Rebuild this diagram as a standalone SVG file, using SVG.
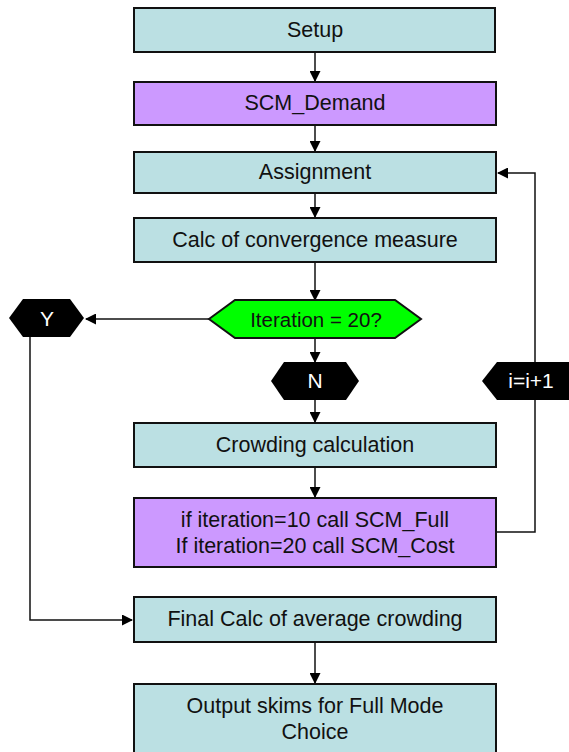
<svg xmlns="http://www.w3.org/2000/svg" width="569" height="752" viewBox="0 0 569 752">
<style>
.box{stroke:#111;stroke-width:2}
.teal{fill:#BBE0E3}
.purple{fill:#CC99FF}
.t{font-family:"Liberation Sans",Arial,sans-serif;font-size:21.5px;fill:#111;text-anchor:middle}
.w{font-family:"Liberation Sans",Arial,sans-serif;font-size:21px;fill:#fff;text-anchor:middle}
.c{fill:none;stroke:#111;stroke-width:1.5}
</style>
<defs>
<marker id="ah" markerWidth="11" markerHeight="11" refX="10" refY="5.5" orient="auto" markerUnits="userSpaceOnUse">
<path d="M0,0 L11,5.5 L0,11 z" fill="#000"/>
</marker>
</defs>
<rect width="569" height="752" fill="#fff"/>
<g id="connectors">
<line class="c" x1="315" y1="52" x2="315" y2="81" marker-end="url(#ah)"/>
<line class="c" x1="315" y1="125" x2="315" y2="151" marker-end="url(#ah)"/>
<line class="c" x1="315" y1="193" x2="315" y2="217" marker-end="url(#ah)"/>
<line class="c" x1="315" y1="262" x2="315" y2="300" marker-end="url(#ah)"/>
<line class="c" x1="315" y1="338" x2="315" y2="362" marker-end="url(#ah)"/>
<line class="c" x1="315" y1="400" x2="315" y2="422" marker-end="url(#ah)"/>
<line class="c" x1="315" y1="467" x2="315" y2="497" marker-end="url(#ah)"/>
<line class="c" x1="315" y1="642" x2="315" y2="683" marker-end="url(#ah)"/>
<line class="c" x1="209" y1="319" x2="86" y2="319" marker-end="url(#ah)"/>
<polyline class="c" points="30,337 30,620 132,620" marker-end="url(#ah)"/>
<polyline class="c" points="496,532 535,532 535,173 498,173" marker-end="url(#ah)"/>
</g>
<g id="setup"><rect class="box teal" x="134" y="8" width="361" height="44"/><text class="t" x="315" y="37">Setup</text></g>
<g id="scm-demand"><rect class="box purple" x="134" y="82" width="362" height="43"/><text class="t" x="315" y="110">SCM_Demand</text></g>
<g id="assignment"><rect class="box teal" x="134" y="152" width="362" height="41"/><text class="t" x="315" y="179">Assignment</text></g>
<g id="calc-convergence"><rect class="box teal" x="134" y="218" width="362" height="44"/><text class="t" x="315" y="247">Calc of convergence measure</text></g>
<g id="decision"><polygon class="box" fill="#00FF00" points="209,319 235,300 395,300 421,319 395,338 235,338"/><text class="t" x="316" y="327" style="font-size:20.5px">Iteration = 20?</text></g>
<g id="yes"><polygon fill="#000" points="9,318 23,299 70,299 84,318 70,337 23,337"/><text class="w" x="47" y="326">Y</text></g>
<g id="no"><polygon fill="#000" points="271,381 284,362 346,362 359,381 346,400 284,400"/><text class="w" x="315" y="388">N</text></g>
<g id="increment"><polygon fill="#000" points="482,381 497,362 572,362 587,381 572,400 497,400"/><text class="w" x="531" y="388">i=i+1</text></g>
<g id="crowding"><rect class="box teal" x="134" y="423" width="362" height="44"/><text class="t" x="315" y="452">Crowding calculation</text></g>
<g id="scm-calls"><rect class="box purple" x="134" y="498" width="362" height="69"/><text class="t" x="315" y="527">if iteration=10 call SCM_Full</text><text class="t" x="315" y="553">If iteration=20 call SCM_Cost</text></g>
<g id="final-calc"><rect class="box teal" x="134" y="597" width="362" height="45"/><text class="t" x="315" y="626">Final Calc of average crowding</text></g>
<g id="output"><rect class="box teal" x="134" y="684" width="362" height="80"/><text class="t" x="315" y="713">Output skims for Full Mode</text><text class="t" x="315" y="739">Choice</text></g>
</svg>
